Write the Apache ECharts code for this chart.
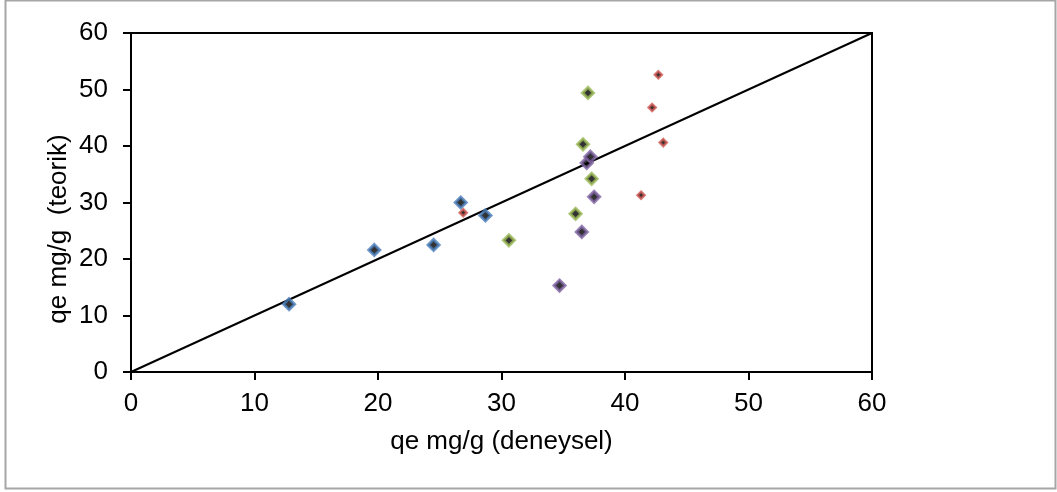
<!DOCTYPE html>
<html>
<head>
<meta charset="utf-8">
<script src="https://cdn.jsdelivr.net/npm/echarts@6/dist/echarts.min.js"></script>
<style>
html,body{margin:0;padding:0;background:#fff;}
#main{width:1057px;height:492px;}
</style>
</head>
<body>
<div id="main"></div>
<script>
// Data (x = deneysel, y = teorik)
const blueX = [12.8, 19.7, 24.5, 26.7, 28.7];
const blueY = [12.0, 21.6, 22.5, 30.0, 27.7];
const redX = [26.9, 41.3, 42.7, 42.2, 43.1];
const redY = [28.2, 31.3, 52.6, 46.8, 40.6];
const greenX = [30.6, 36.0, 37.3, 36.6, 37.0];
const greenY = [23.3, 28.0, 34.2, 40.3, 49.4];
const purpleX = [34.7, 36.5, 37.5, 36.9, 37.2];
const purpleY = [15.3, 24.8, 31.0, 37.0, 38.1];
const lineX = [0, 60];
const lineY = [0, 60];
const xTicks = [0, 10, 20, 30, 40, 50, 60];
const yTicks = [0, 10, 20, 30, 40, 50, 60];

const zip = (xs, ys) => xs.map((x, i) => [x, ys[i]]);
const font = 'Liberation Sans';
const fs = 26;

const chart = echarts.init(document.getElementById('main'), null, {renderer: 'canvas'});

function axisCommon(ticks, margin) {
  return {
    type: 'value',
    min: ticks[0],
    max: ticks[ticks.length - 1],
    interval: ticks[1] - ticks[0],
    axisLine: {show: true, lineStyle: {color: '#000', width: 2}},
    axisTick: {show: true, inside: false, length: 8, lineStyle: {color: '#000', width: 2}},
    splitLine: {show: false},
    axisLabel: {color: '#000', fontFamily: font, fontSize: fs, margin: margin},
  };
}

const markerStyle = (c, bw) => ({color: '#000', borderColor: c, borderWidth: bw});

chart.setOption({
  animation: false,
  backgroundColor: '#fff',
  grid: {left: 131, right: 185, top: 33, bottom: 120, show: true, borderColor: '#000', borderWidth: 2, backgroundColor: 'transparent'},
  xAxis: Object.assign(axisCommon(xTicks, 19), {
    name: 'qe mg/g (deneysel)',
    nameLocation: 'middle',
    nameGap: 57,
    nameTextStyle: {color: '#000', fontFamily: font, fontSize: fs}
  }),
  yAxis: axisCommon(yTicks, 23),
  graphic: [
    {
      type: 'rect', silent: true, z: -1,
      shape: {x: 5.5, y: 0.5, width: 1050, height: 488},
      style: {fill: 'none', stroke: '#a6a6a6', lineWidth: 2}
    },
    {
      type: 'text', silent: true,
      x: 59, y: 229, rotation: Math.PI / 2,
      style: {text: 'qe mg/g  (teorik)', fill: '#000', fontFamily: font, fontSize: fs, align: 'center', verticalAlign: 'middle'}
    }
  ],
  series: [
    {
      type: 'line', data: zip(lineX, lineY), showSymbol: false, symbol: 'none',
      lineStyle: {color: '#000', width: 2}, z: 1
    },
    {type: 'scatter', data: zip(blueX, blueY), symbol: 'diamond', symbolSize: 11, itemStyle: markerStyle('#4a7ebb', 3), z: 3},
    {type: 'scatter', data: zip(redX, redY), symbol: 'diamond', symbolSize: 7, itemStyle: markerStyle('#cf5550', 2.5), z: 3},
    {type: 'scatter', data: zip(greenX, greenY), symbol: 'diamond', symbolSize: 11, itemStyle: markerStyle('#98b954', 3), z: 3},
    {type: 'scatter', data: zip(purpleX, purpleY), symbol: 'diamond', symbolSize: 11, itemStyle: markerStyle('#7e62a1', 3), z: 3}
  ]
});
</script>
</body>
</html>
